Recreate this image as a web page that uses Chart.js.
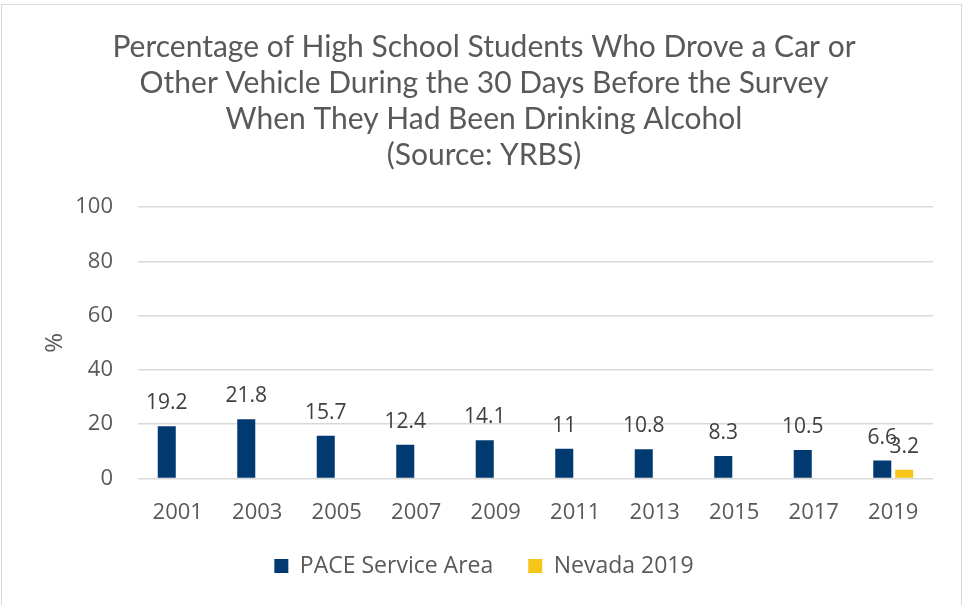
<!DOCTYPE html>
<html>
<head>
<meta charset="utf-8">
<script src="https://cdn.jsdelivr.net/npm/chart.js@4"></script>
<style>
html,body{margin:0;padding:0;background:#fff;}
#wrap{width:963px;height:605px;position:relative;}
</style>
</head>
<body>
<div id="wrap"><canvas id="c" width="963" height="605"></canvas></div>
<script>
const categories = ['2001','2003','2005','2007','2009','2011','2013','2015','2017','2019'];
const paceValues = [19.2, 21.8, 15.7, 12.4, 14.1, 11, 10.8, 8.3, 10.5, 6.6];
const nevadaValues = [null, null, null, null, null, null, null, null, null, 3.2];
const seriesNames = ['PACE Service Area', 'Nevada 2019'];
const yTicks = [0, 20, 40, 60, 80, 100];
const titleLines = [
  'Percentage of High School Students Who Drove a Car or',
  'Other Vehicle During the 30 Days Before the Survey',
  'When They Had Been Drinking Alcohol',
  '(Source: YRBS)'
];

const FONT = "'Open Sans', sans-serif";

const borderPlugin = {
  id: 'borderBox',
  beforeDraw(chart) {
    const ctx = chart.ctx;
    ctx.save();
    ctx.fillStyle = '#fff';
    ctx.fillRect(0, 0, chart.width, chart.height);
    ctx.strokeStyle = '#d9d9d9';
    ctx.lineWidth = 1;
    ctx.strokeRect(1.5, 4.5, chart.width - 3, chart.height + 20);
    ctx.restore();
  }
};

const labelPlugin = {
  id: 'valueLabels',
  afterDatasetsDraw(chart) {
    const ctx = chart.ctx;
    ctx.save();
    ctx.font = "21px " + FONT;
    ctx.fillStyle = '#404040';
    ctx.textAlign = 'center';
    ctx.textBaseline = 'alphabetic';
    chart.data.datasets.forEach((ds, i) => {
      const meta = chart.getDatasetMeta(i);
      meta.data.forEach((bar, j) => {
        const v = ds.data[j];
        if (v === null || v === undefined) return;
        ctx.fillText(String(v), bar.x, bar.y - 17);
      });
    });
    ctx.restore();
  }
};

new Chart(document.getElementById('c'), {
  type: 'bar',
  data: {
    labels: categories,
    datasets: [
      { label: seriesNames[0], data: paceValues, backgroundColor: '#003A70', borderWidth: 0,
        categoryPercentage: 0.553, barPercentage: 0.82 },
      { label: seriesNames[1], data: nevadaValues, backgroundColor: '#F5C518', borderWidth: 0,
        categoryPercentage: 0.553, barPercentage: 0.82 }
    ]
  },
  options: {
    responsive: false,
    devicePixelRatio: 1,
    animation: false,
    layout: { padding: { top: 29, left: 35, right: 30, bottom: 17.5 } },
    plugins: {
      title: {
        display: true,
        text: titleLines,
        color: '#595959',
        font: { family: "Lato, sans-serif", size: 30, weight: 'normal', lineHeight: 36/30 },
        padding: { top: 0, bottom: 34 }
      },
      legend: {
        display: true,
        position: 'bottom',
        labels: {
          color: '#595959',
          font: { family: FONT, size: 23 },
          boxWidth: 14,
          boxHeight: 14,
          padding: 35
        }
      },
      tooltip: { enabled: false }
    },
    scales: {
      x: {
        grid: { display: false, drawTicks: false },
        border: { display: false },
        ticks: { color: '#595959', font: { family: FONT, size: 22 }, padding: 21 },
        afterFit(scale) { scale.height = 41; }
      },
      y: {
        min: 0, max: 100,
        afterBuildTicks(scale) { scale.ticks = yTicks.map(v => ({ value: v })); },
        grid: { color: '#d9d9d9', lineWidth: 1.5, drawTicks: false },
        border: { display: false },
        ticks: { color: '#595959', font: { family: FONT, size: 22 }, padding: 25 },
        title: { display: true, text: '%', color: '#595959', font: { family: FONT, size: 24 },
                 padding: { top: 5.6, bottom: 0 } },
        afterFit(scale) { scale.width = 103; }
      }
    }
  },
  plugins: [borderPlugin, labelPlugin]
});
</script>
</body>
</html>
